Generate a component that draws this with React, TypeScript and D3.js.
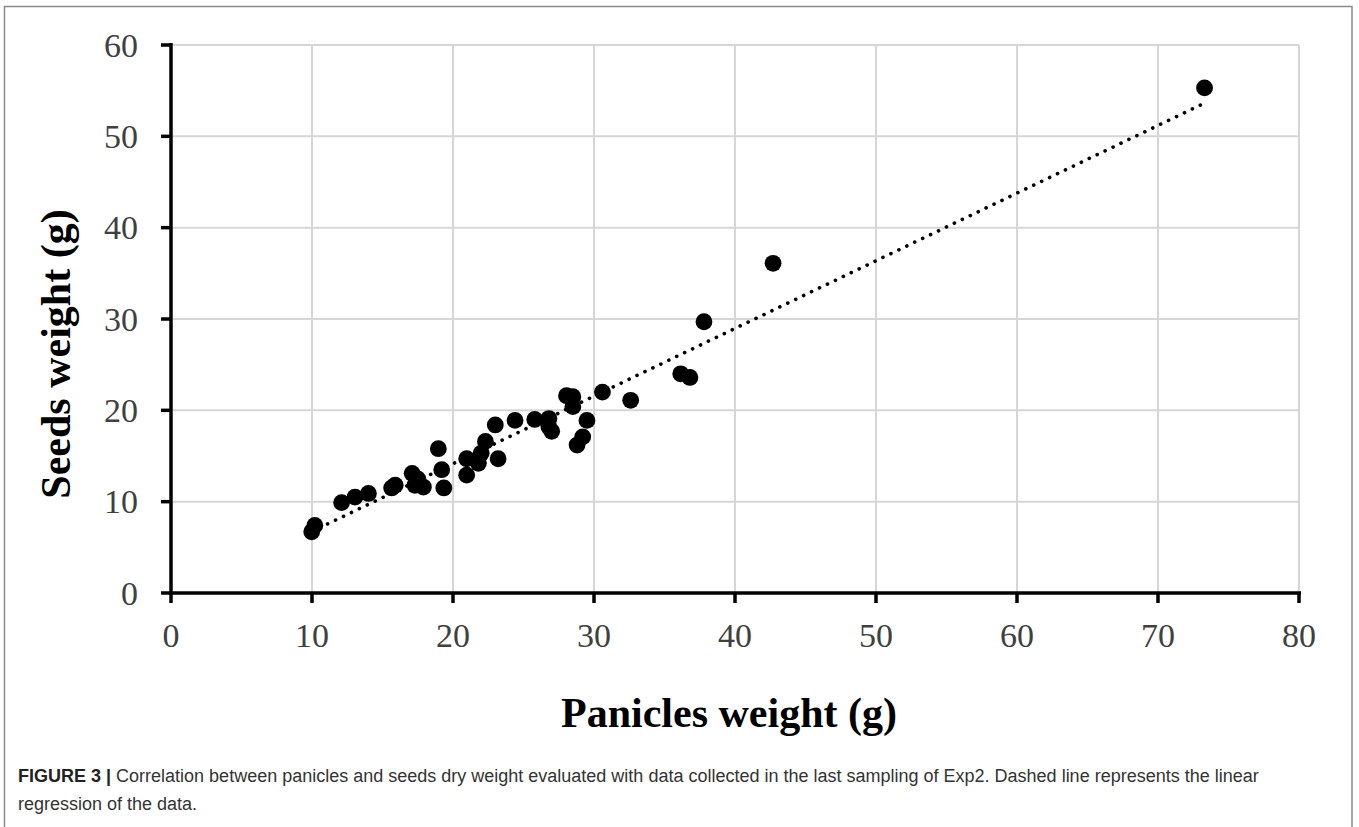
import React from "react";
import * as d3 from "d3";

const panicleWeight = [
  9.98, 10.2, 12.1, 13.05, 14.0, 15.65, 15.9, 17.1, 17.5, 17.3, 17.9,
  18.96, 19.2, 19.35, 20.97, 20.97, 21.8, 22.0, 22.3, 23.2, 23.0, 24.4,
  25.8, 26.8, 26.8, 27.0, 28.05, 28.5, 28.5, 29.5, 29.2, 28.8, 30.6,
  32.6, 36.15, 36.8, 37.8, 42.7, 73.3,
];
const seedWeight = [
  6.7, 7.4, 9.9, 10.5, 10.9, 11.5, 11.8, 13.1, 12.5, 11.8, 11.6,
  15.8, 13.5, 11.5, 14.7, 12.9, 14.2, 15.3, 16.6, 14.7, 18.4, 18.9,
  19.0, 19.1, 18.2, 17.7, 21.6, 21.5, 20.4, 18.9, 17.1, 16.2, 22.0,
  21.1, 24.0, 23.6, 29.7, 36.1, 55.3,
];
const xTicks = [0, 10, 20, 30, 40, 50, 60, 70, 80];
const yTicks = [0, 10, 20, 30, 40, 50, 60];
const trendSlope = 0.7408;
const trendIntercept = -0.667;

const xTitle = "Panicles weight (g)";
const yTitle = "Seeds weight (g)";
const captionLabel = "FIGURE 3 |";
const captionLine1 =
  " Correlation between panicles and seeds dry weight evaluated with data collected in the last sampling of Exp2. Dashed line represents the linear";
const captionLine2 = "regression of the data.";

export default function App() {
  const W = 1359;
  const H = 827;
  const left = 171;
  const right = 1299;
  const top = 45;
  const bottom = 593;

  const x = d3.scaleLinear().domain([0, 80]).range([left, right]);
  const y = d3.scaleLinear().domain([0, 60]).range([bottom, top]);

  const pts = panicleWeight.map((px, i) => [px, seedWeight[i]] as [number, number]);
  const xMin = d3.min(panicleWeight) as number;
  const xMax = d3.max(panicleWeight) as number;
  const trend = d3.line<number>()
    .x((d) => x(d))
    .y((d) => y(trendSlope * d + trendIntercept))([xMin, xMax]) as string;

  const serif = "'Liberation Serif', 'Times New Roman', serif";
  const sans = "'Liberation Sans', Arial, Helvetica, sans-serif";

  return (
    <svg
      width={W}
      height={H}
      style={{ position: "absolute", left: 0, top: 0, background: "#fff" }}
    >
      <rect x={4.5} y={6.5} width={1347.5} height={900} fill="#fff" stroke="#8a8a8a" strokeWidth={1.5} />

      {/* grid */}
      {xTicks.filter((t) => t > 0).map((t) => (
        <line key={"gx" + t} x1={x(t)} x2={x(t)} y1={y(60)} y2={y(0)} stroke="#d6d6d6" strokeWidth={2} />
      ))}
      {yTicks.filter((t) => t > 0).map((t) => (
        <line key={"gy" + t} x1={x(0)} x2={x(80)} y1={y(t)} y2={y(t)} stroke="#d6d6d6" strokeWidth={2} />
      ))}

      {/* axes */}
      <line x1={x(0)} x2={x(0)} y1={y(60) - 2} y2={y(0) + 2} stroke="#000" strokeWidth={3.5} />
      <line x1={x(0) - 2} x2={x(80) + 2} y1={y(0)} y2={y(0)} stroke="#000" strokeWidth={3.5} />
      {yTicks.map((t) => (
        <line key={"ty" + t} x1={x(0) - 10} x2={x(0)} y1={y(t)} y2={y(t)} stroke="#000" strokeWidth={3.5} />
      ))}
      {xTicks.map((t) => (
        <line key={"tx" + t} x1={x(t)} x2={x(t)} y1={y(0)} y2={y(0) + 10} stroke="#000" strokeWidth={3.5} />
      ))}

      {/* tick labels */}
      {yTicks.map((t) => (
        <text key={"ly" + t} x={138} y={y(t)} dy="0.34em" textAnchor="end" fontFamily={serif} fontSize={34} fill="#404040">
          {t}
        </text>
      ))}
      {xTicks.map((t) => (
        <text key={"lx" + t} x={x(t)} y={647} textAnchor="middle" fontFamily={serif} fontSize={34} fill="#404040">
          {t}
        </text>
      ))}

      {/* trend line */}
      <path d={trend} fill="none" stroke="#000" strokeWidth={3.6} strokeLinecap="round" strokeDasharray="0.1 8.7" />

      {/* points */}
      {pts.map(([px, py], i) => (
        <circle key={"p" + i} cx={x(px)} cy={y(py)} r={8.4} fill="#000" />
      ))}

      {/* axis titles */}
      <text x={729} y={727} textAnchor="middle" fontFamily={serif} fontWeight="bold" fontSize={42} fill="#000">
        {xTitle}
      </text>
      <text
        transform={`translate(70, 354) rotate(-90)`}
        textAnchor="middle"
        fontFamily={serif}
        fontWeight="bold"
        fontSize={42}
        fill="#000"
      >
        {yTitle}
      </text>

      {/* caption */}
      <text x={18} y={782} fontFamily={sans} fontSize={18} fill="#333">
        <tspan fontWeight="bold" fill="#222">{captionLabel}</tspan>
        <tspan>{captionLine1}</tspan>
      </text>
      <text x={18} y={810} fontFamily={sans} fontSize={18} fill="#333">
        {captionLine2}
      </text>
    </svg>
  );
}
